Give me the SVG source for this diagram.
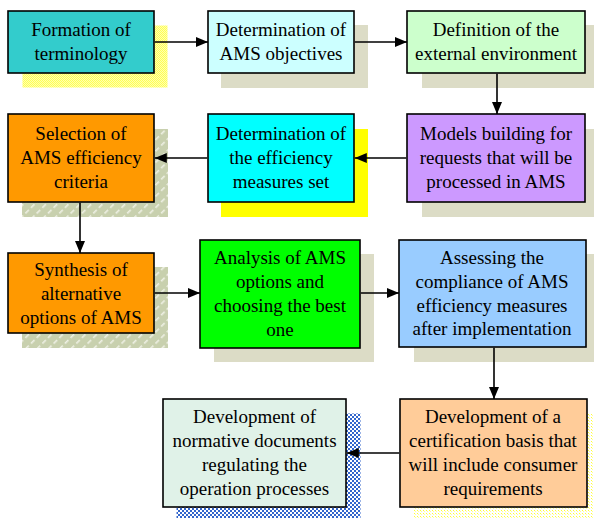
<svg xmlns="http://www.w3.org/2000/svg" width="594" height="518" viewBox="0 0 594 518">
<defs>
<style>
.box{stroke:#000;stroke-width:1.6}
.sh{stroke:none}
.t{font-family:'Times New Roman','Liberation Serif','DejaVu Serif','Noto Serif',Times,serif;font-size:19px;fill:#000;text-anchor:middle}
.c{fill:none;stroke:#000;stroke-width:1.6;marker-end:url(#ah)}
</style>
<marker id="ah" markerUnits="userSpaceOnUse" markerWidth="13" markerHeight="11" refX="12" refY="5" orient="auto">
<path d="M0,0 L12,5 L0,10 z" fill="#000"/>
</marker>
<pattern id="yel" width="2" height="2" patternUnits="userSpaceOnUse">
<rect width="2" height="2" fill="#ffffb0"/>
<rect width="1" height="1" fill="#ffff55"/>
<rect x="1" y="1" width="1" height="1" fill="#ffff55"/>
</pattern>
<pattern id="yeld" width="3" height="3" patternUnits="userSpaceOnUse">
<rect width="3" height="3" fill="#ffffff"/>
<rect width="1" height="1" fill="#ffff33"/>
<rect x="1" y="1" width="1" height="1" fill="#ffff99"/>
</pattern>
<pattern id="hatch" width="8" height="8" patternUnits="userSpaceOnUse" patternTransform="rotate(45)">
<rect width="8" height="8" fill="#c8d0ae"/>
<rect x="0" y="0" width="1.6" height="5" fill="#eef0e4"/>
</pattern>
<pattern id="chk" width="4" height="4" patternUnits="userSpaceOnUse">
<rect width="4" height="4" fill="#ffffff"/>
<rect width="2" height="2" fill="#3366cc"/>
<rect x="2" y="2" width="2" height="2" fill="#3366cc"/>
</pattern>
</defs>
<rect width="594" height="518" fill="#fff"/>

<g id="n1">
<rect class="sh" x="22.5" y="25.5" width="145" height="62" fill="url(#yel)" stroke="#ffff00" stroke-width="1"/>
<rect class="box" x="8" y="11" width="146" height="62" fill="#33cccc"/>
<text class="t" x="81" y="36">Formation of</text>
<text class="t" x="81" y="60">terminology</text>
</g>

<g id="n2">
<rect class="sh" x="221" y="25" width="147" height="63" fill="#dcdcc6"/>
<rect class="box" x="208" y="11" width="146" height="62" fill="#ccffff"/>
<text class="t" x="281" y="36">Determination of</text>
<text class="t" x="281" y="60">AMS objectives</text>
</g>

<g id="n3">
<rect class="sh" x="422" y="25" width="180" height="63" fill="#dcdcc6"/>
<rect class="box" x="407" y="11" width="178" height="62" fill="#ccffcc"/>
<text class="t" x="496" y="36">Definition of the</text>
<text class="t" x="496" y="60">external environment</text>
</g>

<g id="n4">
<rect class="sh" x="422" y="129" width="180" height="88" fill="#dcdcc6"/>
<rect class="box" x="407" y="114" width="178" height="88" fill="#cc99ff"/>
<text class="t" x="496" y="140">Models building for</text>
<text class="t" x="496" y="164">requests that will be</text>
<text class="t" x="496" y="188">processed in AMS</text>
</g>

<g id="n5">
<rect class="sh" x="221" y="129" width="147" height="88" fill="#ffff00"/>
<rect class="box" x="208" y="114" width="146" height="88" fill="#00ffff"/>
<text class="t" x="281" y="140">Determination of</text>
<text class="t" x="281" y="164">the efficiency</text>
<text class="t" x="281" y="188">measures set</text>
</g>

<g id="n6">
<rect class="sh" x="22" y="129" width="146" height="88" fill="url(#hatch)"/>
<rect class="box" x="8" y="114" width="146" height="88" fill="#ff9900"/>
<text class="t" x="81" y="140">Selection of</text>
<text class="t" x="81" y="164">AMS efficiency</text>
<text class="t" x="81" y="188">criteria</text>
</g>

<g id="n7">
<rect class="sh" x="22" y="267" width="146" height="81" fill="url(#hatch)"/>
<rect class="box" x="8" y="253" width="146" height="80" fill="#ff9900"/>
<text class="t" x="81" y="276">Synthesis of</text>
<text class="t" x="81" y="300">alternative</text>
<text class="t" x="81" y="324">options of AMS</text>
</g>

<g id="n8">
<rect class="sh" x="214" y="254" width="160" height="108" fill="#dcdcc6"/>
<rect class="box" x="200" y="240" width="160" height="108" fill="#00ff00"/>
<text class="t" x="280" y="264">Analysis of AMS</text>
<text class="t" x="280" y="288">options and</text>
<text class="t" x="280" y="312">choosing the best</text>
<text class="t" x="280" y="336">one</text>
</g>

<g id="n9">
<rect class="sh" x="414" y="254" width="186" height="108" fill="#dcdcc6"/>
<rect class="box" x="399" y="240" width="187" height="107" fill="#99ccff"/>
<text class="t" x="492" y="264">Assessing the</text>
<text class="t" x="492" y="288">compliance of AMS</text>
<text class="t" x="492" y="312">efficiency measures</text>
<text class="t" x="492" y="335">after implementation</text>
</g>

<g id="n10">
<rect class="sh" x="413.5" y="413.5" width="190" height="110" fill="url(#yeld)" stroke="#ffff00" stroke-width="1" stroke-dasharray="1 1"/>
<rect class="box" x="400" y="399" width="187" height="108" fill="#ffcc99"/>
<text class="t" x="493" y="423">Development of a</text>
<text class="t" x="493" y="447">certification basis that</text>
<text class="t" x="493" y="471">will include consumer</text>
<text class="t" x="493" y="495">requirements</text>
</g>

<g id="n11">
<rect class="sh" x="176.5" y="413.5" width="184" height="110" fill="url(#chk)" stroke="#3366cc" stroke-width="1"/>
<rect class="box" x="163" y="399" width="183" height="108" fill="#e0f2e8"/>
<text class="t" x="254.5" y="423">Development of</text>
<text class="t" x="254.5" y="447">normative documents</text>
<text class="t" x="254.5" y="471">regulating the</text>
<text class="t" x="254.5" y="495">operation processes</text>
</g>

<g id="connectors">
<line class="c" x1="154.8" y1="42" x2="208" y2="42"/>
<line class="c" x1="354.8" y1="42" x2="407" y2="42"/>
<line class="c" x1="497" y1="73.8" x2="497" y2="114"/>
<line class="c" x1="406.2" y1="158" x2="354.8" y2="158"/>
<line class="c" x1="207.2" y1="158" x2="154.8" y2="158"/>
<line class="c" x1="80" y1="202.8" x2="80" y2="253"/>
<line class="c" x1="154.8" y1="293" x2="200" y2="293"/>
<line class="c" x1="360.8" y1="293" x2="399" y2="293"/>
<line class="c" x1="494" y1="347.8" x2="494" y2="399"/>
<line class="c" x1="399.2" y1="453" x2="346.8" y2="453"/>
</g>
</svg>
